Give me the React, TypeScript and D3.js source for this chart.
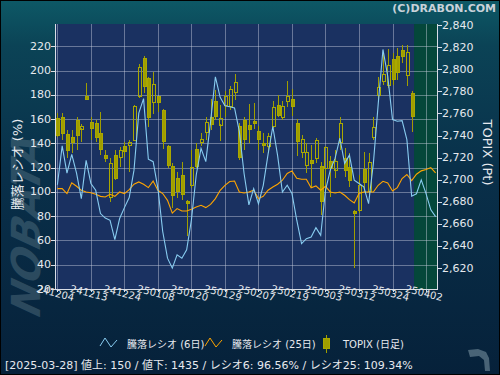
import React from "react";
import * as d3 from "d3";

// ---------- data ----------
const dates: string[] = [
  "2024-12-04","2024-12-05","2024-12-06","2024-12-09","2024-12-10","2024-12-11","2024-12-12","2024-12-13",
  "2024-12-16","2024-12-17","2024-12-18","2024-12-19","2024-12-20","2024-12-23","2024-12-24","2024-12-25",
  "2024-12-26","2024-12-27","2024-12-30","2025-01-06","2025-01-07","2025-01-08","2025-01-09","2025-01-10",
  "2025-01-14","2025-01-15","2025-01-16","2025-01-17","2025-01-20","2025-01-21","2025-01-22","2025-01-23",
  "2025-01-24","2025-01-27","2025-01-28","2025-01-29","2025-01-30","2025-01-31","2025-02-03","2025-02-04",
  "2025-02-05","2025-02-06","2025-02-07","2025-02-10","2025-02-12","2025-02-13","2025-02-14","2025-02-17",
  "2025-02-18","2025-02-19","2025-02-20","2025-02-21","2025-02-25","2025-02-26","2025-02-27","2025-02-28",
  "2025-03-03","2025-03-04","2025-03-05","2025-03-06","2025-03-07","2025-03-10","2025-03-11","2025-03-12",
  "2025-03-13","2025-03-14","2025-03-17","2025-03-18","2025-03-19","2025-03-21","2025-03-24","2025-03-25",
  "2025-03-26","2025-03-27","2025-03-28","2025-03-31","2025-04-01","2025-04-02","2025-04-03","2025-04-04",
];

const xTickLabels: string[] = [
  "241204","241213","241224","250108","250120","250129","250207","250219","250303","250312","250324","250402",
];

// TOPIX daily candles (2024-12-04 .. 2025-03-28)
const topixOpen: number[] = [
  2755.6,2756.5,2741.1,2738.7,2754.1,2746.5,2775.8,2752.0,2751.1,2742.0,2722.4,2684.3,2722.4,2720.3,2730.5,2730.8,
  2735.9,2775.2,2809.9,2791.8,2770.1,2775.5,2763.1,2730.5,2712.4,2701.8,2704.2,2680.7,2694.6,2727.5,2733.5,2742.9,
  2757.0,2771.3,2750.2,2767.6,2766.7,2778.8,2748.6,2754.1,2749.3,2753.1,2744.1,2733.2,2730.8,2748.6,2767.4,2756.5,
  2771.0,2773.1,2751.1,2724.4,2713.3,2717.8,2719.4,2712.4,2710.3,2716.9,2709.4,2733.5,2719.4,2711.8,2671.6,2672.5,
  2709.4,2689.1,2738.9,2776.7,2788.7,2785.8,2809.0,2812.0,2817.5,2794.2,2778.2,
];
const topixHigh: number[] = [
  2760.4,2760.1,2745.0,2745.0,2757.0,2750.4,2787.3,2756.5,2754.1,2761.0,2726.9,2719.6,2726.9,2729.9,2734.4,2735.9,
  2767.6,2804.8,2812.0,2793.3,2797.3,2776.1,2764.0,2731.4,2715.4,2707.2,2716.3,2681.6,2726.9,2733.0,2742.0,2757.0,
  2773.1,2781.2,2767.6,2780.3,2784.8,2795.7,2751.3,2757.0,2768.5,2769.2,2748.6,2742.0,2742.0,2771.3,2776.7,2771.3,
  2789.4,2781.9,2754.7,2740.5,2733.0,2731.4,2737.5,2716.3,2730.5,2721.4,2726.9,2756.5,2728.4,2723.9,2672.5,2704.2,
  2725.3,2723.9,2756.5,2792.7,2814.5,2818.1,2814.5,2819.0,2822.0,2822.0,2780.3,
];
const topixLow: number[] = [
  2738.7,2735.9,2719.6,2724.2,2726.9,2734.4,2772.0,2735.9,2734.4,2722.4,2716.0,2680.1,2699.7,2711.8,2720.8,2707.2,
  2735.0,2773.7,2778.8,2748.0,2759.2,2761.0,2727.5,2710.6,2674.1,2683.4,2681.6,2649.3,2692.5,2710.6,2730.5,2735.9,
  2745.0,2754.1,2735.3,2757.0,2763.1,2772.2,2717.8,2726.9,2733.5,2746.2,2726.9,2723.9,2723.9,2746.8,2757.0,2754.1,
  2765.6,2757.7,2721.4,2719.9,2705.8,2692.2,2714.8,2668.0,2687.7,2684.6,2701.2,2726.9,2702.7,2693.6,2619.7,2669.8,
  2687.7,2686.1,2735.9,2772.2,2785.8,2783.0,2785.8,2790.3,2805.7,2785.1,2743.5,
];
const topixClose: number[] = [
  2740.5,2742.0,2726.2,2734.4,2740.5,2748.9,2772.8,2746.2,2738.4,2727.5,2719.6,2715.1,2701.2,2726.9,2726.2,2733.9,
  2766.7,2801.8,2784.2,2756.5,2786.4,2770.1,2735.3,2713.3,2686.1,2690.0,2686.8,2679.1,2711.2,2712.4,2736.6,2752.0,
  2751.1,2757.9,2756.1,2775.8,2781.9,2788.2,2720.5,2737.1,2745.6,2751.6,2736.6,2731.4,2739.8,2765.6,2758.6,2766.7,
  2775.8,2766.7,2734.4,2736.6,2724.8,2715.4,2735.9,2681.0,2729.3,2710.3,2717.2,2751.1,2708.1,2700.3,2669.5,2695.2,
  2697.3,2715.7,2748.0,2783.7,2795.4,2803.9,2790.9,2797.3,2812.3,2815.4,2757.0,
];

// Advance/decline ratio, 6-day and 25-day (%)
const ratio6: number[] = [
  106,138,115.5,131,115.5,94.5,126,107,101.4,82.2,78.5,76.6,60.8,78.1,87.1,95.4,
  118,165,177,127,125,103,67.4,45.4,37.2,48.2,45.4,52.3,77.1,114,136,125,
  158,195,178,171,170.2,169.3,150,115,89.4,102.8,90.2,105.5,131,154,130,100,
  105.5,98.7,76.7,57.4,61.5,62.8,70.6,64.2,101.4,118,127.7,144.3,123.6,130.4,109.7,107,
  104.2,90.4,123.6,172,217.5,195.5,159.7,158.3,158.8,143.1,96.56,98.5,110,98.7,85.3,79.7,
];
const ratio25: number[] = [
  102.8,102.8,98.7,107.5,104.7,101.4,100,99.4,98.1,96.4,95.9,98.1,96.4,100,98.7,102,
  106.4,108.3,106.4,103.6,109.1,101.4,98.7,93.1,82.6,86.3,84.3,84.3,85.7,87.6,89,87.1,
  89.8,94.5,101.4,105.5,108.6,109,100,99.2,100,101.4,94.5,96.4,101.4,104.1,106.4,109.7,
  115.2,117.4,111.3,110.5,110.5,103.5,105,101.4,104.7,100,99.2,100,97.3,93.7,90.9,98.7,
  100,100,100,105.5,108.8,107.4,100.8,103.6,111.1,114.4,109.34,114.6,117.4,118.5,120.1,115.7,
];

const leftTicks: number[] = [20, 40, 60, 80, 100, 120, 140, 160, 180, 200, 220];
const rightTicks: number[] = [2620, 2640, 2660, 2680, 2700, 2720, 2740, 2760, 2780, 2800, 2820, 2840];

const footerText = "[2025-03-28]  値上: 150 / 値下: 1435 / レシオ6: 96.56% / レシオ25: 109.34%";
const legendItems: string[] = ["騰落レシオ (6日)", "騰落レシオ (25日)", "TOPIX (日足)"];
const lastDataIndex = topixClose.length - 1;

// ---------- layout ----------
const W = 500;
const H = 375;
const PL = 55, PR = 438, PT = 24, PB = 289;
const FONT = '"DejaVu Sans", "Noto Sans CJK JP", sans-serif';
const OLIVE = "#a09e00";
const OLIVE_S = "#aaa800";
const BLUE = "#88ccf0";
const ORANGE = "#ffa500";

export default function App() {
  const x = d3.scaleLinear().domain([-0.5, dates.length - 0.5]).range([PL, PR]);
  const yL = d3.scaleLinear().domain([20, 238.5]).range([PB, PT]);
  const yR = d3.scaleLinear().domain([2601, 2841]).range([PB, PT]);

  const line6 = d3.line<number>().x((_, i) => x(i)).y((d) => yL(d))(ratio6) || "";
  const line25 = d3.line<number>().x((_, i) => x(i)).y((d) => yL(d))(ratio25) || "";

  const vIdx = xTickLabels.map((_, k) => k * 7);
  const fmt = d3.format(",");
  const snap = (v: number) => Math.round(v) + 0.5;

  return (
    <svg width={W} height={H} style={{ position: "absolute", left: 0, top: 0 }} fontFamily={FONT}>
      <defs>
        <linearGradient id="bg" x1="0" y1="0" x2="0" y2="1">
          <stop offset="0" stopColor="#0d5966" />
          <stop offset="0.12" stopColor="#0b4356" />
          <stop offset="0.45" stopColor="#09304a" />
          <stop offset="1" stopColor="#06213a" />
        </linearGradient>
        <clipPath id="plotClip">
          <rect x={PL} y={PT} width={PR - PL} height={PB - PT} />
        </clipPath>
      </defs>
      <rect x={0} y={0} width={W} height={H} fill="url(#bg)" />
      <rect x={0.5} y={0.5} width={W - 1} height={H - 1} fill="none" stroke="#000" />

      {/* watermark */}
      <text
        transform="translate(40,318) rotate(-90) skewX(-15)"
        fontSize={40}
        fontWeight="bold"
        fontStyle="italic"
        fill="#6e8a96"
        opacity={0.35}
        fontFamily='"DejaVu Sans", sans-serif'
      >
        NOBATA
      </text>

      {/* plot background */}
      <rect x={PL} y={PT} width={PR - PL} height={PB - PT} fill="#1a3161" />
      <rect
        x={x(lastDataIndex + 0.5)}
        y={PT}
        width={PR - x(lastDataIndex + 0.5)}
        height={PB - PT}
        fill="#04473a"
      />

      {/* grid */}
      <g stroke="#c8cede" strokeOpacity={0.45} shapeRendering="crispEdges">
        {leftTicks.filter((t) => t > 20).map((t) => (
          <line key={"h" + t} x1={PL} x2={PR} y1={snap(yL(t))} y2={snap(yL(t))} />
        ))}
        {vIdx.map((i) => (
          <line key={"v" + i} x1={snap(x(i))} x2={snap(x(i))} y1={PT} y2={PB} />
        ))}
      </g>

      {/* candles */}
      <g clipPath="url(#plotClip)" shapeRendering="crispEdges">
        {topixClose.map((c, i) => {
          const o = topixOpen[i];
          const cx = snap(x(i));
          const top = yR(Math.max(o, c));
          const bot = yR(Math.min(o, c));
          const filled = c < o;
          return (
            <g key={"c" + i}>
              <line x1={cx} x2={cx} y1={yR(topixHigh[i])} y2={top} stroke={OLIVE} />
              <line x1={cx} x2={cx} y1={bot} y2={yR(topixLow[i])} stroke={OLIVE} />
              <rect
                x={cx - 1.5}
                y={Math.round(top) + 0.5}
                width={3}
                height={Math.max(1, Math.round(bot - top))}
                fill={filled ? OLIVE : "none"}
                stroke={OLIVE_S}
              />
            </g>
          );
        })}
      </g>

      {/* ratio lines */}
      <g clipPath="url(#plotClip)" fill="none" strokeWidth={1.1}>
        <path d={line25} stroke={ORANGE} />
        <path d={line6} stroke={BLUE} />
      </g>

      {/* axes */}
      <g stroke="#d8dde6" shapeRendering="crispEdges">
        <line x1={PL + 0.5} x2={PL + 0.5} y1={PT} y2={PB} />
        <line x1={PR - 0.5} x2={PR - 0.5} y1={PT} y2={PB} />
        <line x1={PL} x2={PR} y1={PB + 0.5} y2={PB + 0.5} />
        {leftTicks.map((t) => (
          <line key={"lt" + t} x1={PL - 4} x2={PL} y1={snap(yL(t))} y2={snap(yL(t))} />
        ))}
        {rightTicks.map((t) => (
          <line key={"rt" + t} x1={PR} x2={PR + 4} y1={snap(yR(t))} y2={snap(yR(t))} />
        ))}
        {vIdx.map((i) => (
          <line key={"bt" + i} x1={snap(x(i))} x2={snap(x(i))} y1={PB} y2={PB + 3} />
        ))}
      </g>

      <g fill="#e6e9ee" fontSize={11}>
        {leftTicks.map((t) => (
          <text key={"ll" + t} x={PL - 4} y={yL(t)} textAnchor="end" dominantBaseline="central">
            {t}
          </text>
        ))}
        {rightTicks.map((t) => (
          <text key={"rl" + t} x={PR + 4} y={yR(t)} dominantBaseline="central">
            {fmt(t)}
          </text>
        ))}
        {vIdx.map((i, k) => (
          <text
            key={"xl" + i}
            x={x(i) - 2}
            y={PB + 4}
            fontSize={10}
            textAnchor="middle"
            dominantBaseline="central"
            transform={`rotate(14, ${x(i) - 2}, ${PB + 4})`}
          >
            {xTickLabels[k]}
          </text>
        ))}
      </g>

      {/* axis titles */}
      <text
        transform={`translate(17,${(PT + PB) / 2 + 8}) rotate(-90)`}
        textAnchor="middle"
        dominantBaseline="central"
        fill="#e6e9ee"
        fontSize={13}
      >
        騰落レシオ (%)
      </text>
      <text
        transform={`translate(487,${(PT + PB) / 2 - 4}) rotate(90)`}
        textAnchor="middle"
        dominantBaseline="central"
        fill="#e6e9ee"
        fontSize={13}
      >
        TOPIX (Pt)
      </text>

      {/* credit */}
      <text x={496} y={8} textAnchor="end" dominantBaseline="central" fontSize={11} fontWeight="bold" fill="#c9d2da">
        (C)DRABON.COM
      </text>

      {/* legend */}
      <g fontSize={10} fill="#e6e9ee">
        <polyline points="100,346 105,338 111,347 117,340" fill="none" stroke={BLUE} strokeWidth={1} />
        <text x={127} y={344} dominantBaseline="central">{legendItems[0]}</text>
        <polyline points="205,346 210,338 216,347 222,340" fill="none" stroke={ORANGE} strokeWidth={1} />
        <text x={232} y={344} dominantBaseline="central">{legendItems[1]}</text>
        <line x1={326.5} x2={326.5} y1={335} y2={353} stroke={OLIVE} />
        <rect x={323.5} y={338.5} width={6} height={10} fill={OLIVE} stroke={OLIVE_S} />
        <text x={343} y={344} dominantBaseline="central">{legendItems[2]}</text>
      </g>

      {/* footer */}
      <text x={5} y={365} dominantBaseline="central" fontSize={11} fill="#e6e9ee">
        {footerText}
      </text>

      {/* small logo bottom-right */}
      <path
        d="M468,350 L478,349 L486,352 L489,358 L490,371 L485,371 L484,360 L479,356 L470,357 Z"
        fill="#5a7486"
        opacity={0.8}
      />
    </svg>
  );
}
